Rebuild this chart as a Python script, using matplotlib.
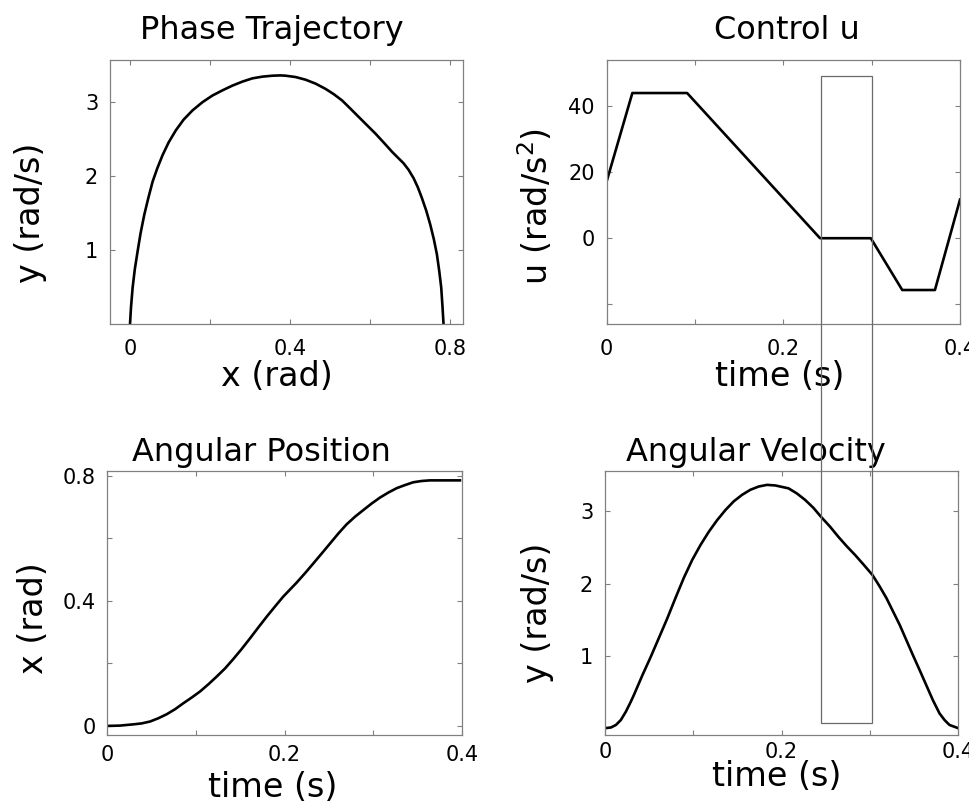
import numpy as np
import matplotlib
matplotlib.use("Agg")
import matplotlib.pyplot as plt
from matplotlib.patches import Rectangle

plt.rcParams['font.family'] = ['DejaVu Sans']
plt.rcParams['mathtext.default'] = 'regular'

# phase trajectory: y (rad/s) against x (rad)
phase_x = [0.0, 0.0025, 0.0066, 0.012, 0.0191, 0.0266, 0.0357, 0.0457, 0.0565, 0.0681,
           0.0814, 0.0964, 0.1146, 0.1338, 0.1562, 0.1811, 0.206, 0.231, 0.2559, 0.2808,
           0.3057, 0.3306, 0.3556, 0.3763, 0.3888, 0.4137, 0.4386, 0.4636, 0.4885, 0.5092,
           0.530, 0.5508, 0.5715, 0.5923, 0.6131, 0.6338, 0.6546, 0.6712, 0.6837, 0.6962,
           0.7086, 0.7194, 0.7294, 0.7402, 0.7502, 0.7593, 0.7668, 0.7726, 0.7776, 0.7809,
           0.7834]
phase_y = [0.0, 0.227, 0.495, 0.741, 0.987, 1.233, 1.479, 1.703, 1.926, 2.105,
           2.284, 2.455, 2.62, 2.763, 2.889, 3.0, 3.09, 3.16, 3.224, 3.278,
           3.322, 3.345, 3.358, 3.362, 3.358, 3.340, 3.304, 3.251, 3.18, 3.108,
           3.023, 2.912, 2.80, 2.688, 2.576, 2.455, 2.33, 2.24, 2.173, 2.084,
           1.972, 1.846, 1.703, 1.533, 1.345, 1.144, 0.943, 0.72, 0.495, 0.227,
           0.0]

# control u (piecewise linear)
u_t = [0, 0.029, 0.091, 0.2415, 0.299, 0.3346, 0.3716, 0.4]
u_val = [17.3, 44, 44, 0, 0, -15.7, -15.7, 11.7]

# angular position
pos_t = [0, 0.0143, 0.0293, 0.0387, 0.0482, 0.0576, 0.067, 0.0764, 0.0858, 0.0952,
         0.1046, 0.114, 0.1235, 0.1329, 0.1422, 0.1516, 0.161, 0.1704, 0.18, 0.1892,
         0.1986, 0.2138, 0.2232, 0.2325, 0.242, 0.2514, 0.2608, 0.270, 0.2797, 0.289,
         0.2984, 0.3078, 0.3172, 0.3266, 0.336, 0.3454, 0.3548, 0.364, 0.398]
pos_x = [0.0, 0.001, 0.005, 0.008, 0.014, 0.0245, 0.0373, 0.0533, 0.0725, 0.0907,
         0.11, 0.133, 0.158, 0.184, 0.214, 0.246, 0.280, 0.315, 0.350, 0.382,
         0.414, 0.459, 0.489, 0.52, 0.552, 0.584, 0.616, 0.645, 0.67, 0.691,
         0.712, 0.731, 0.747, 0.761, 0.771, 0.780, 0.784, 0.786, 0.786]

# angular velocity
vel_t = [0, 0.0068, 0.0124, 0.018, 0.0237, 0.0293, 0.0331, 0.0425, 0.0519, 0.0612,
         0.0706, 0.080, 0.0894, 0.0988, 0.1082, 0.1176, 0.127, 0.1364, 0.1458, 0.1552,
         0.1646, 0.174, 0.1834, 0.1928, 0.2003, 0.2078, 0.2172, 0.2266, 0.236, 0.2443,
         0.2548, 0.2642, 0.2736, 0.283, 0.2924, 0.3029, 0.3111, 0.3187, 0.3262, 0.3337,
         0.3412, 0.3487, 0.3562, 0.3637, 0.3712, 0.3787, 0.3844, 0.39, 0.4]
vel_y = [0.0, 0.01, 0.045, 0.114, 0.23, 0.368, 0.47, 0.737, 0.99, 1.254,
         1.522, 1.808, 2.085, 2.33, 2.537, 2.72, 2.88, 3.02, 3.14, 3.23,
         3.30, 3.345, 3.368, 3.36, 3.34, 3.32, 3.25, 3.16, 3.05, 2.93,
         2.79, 2.65, 2.52, 2.40, 2.27, 2.12, 1.96, 1.80, 1.615, 1.43,
         1.22, 1.01, 0.806, 0.598, 0.39, 0.206, 0.114, 0.045, 0.0]

# highlighted window (shown across the right column)
win_t = (0.2423, 0.3007)
win_top_u = 49.2
win_bot_y = 0.07

frame_col = '#808080'
lw = 1.9

fig = plt.figure(figsize=(9.7, 8.09), dpi=100)

def style(ax, xpad):
    for s in ax.spines.values():
        s.set_color(frame_col)
        s.set_linewidth(0.9)
    ax.tick_params(direction='in', length=3.5, width=0.8, color=frame_col,
                   labelcolor='black', labelsize=15, top=True, right=True)
    ax.tick_params(axis='x', pad=xpad)
    ax.tick_params(axis='y', pad=8.5)

# Phase Trajectory
ax1 = fig.add_axes([0.1134, 0.5995, 0.3639, 0.3263])
ax1.plot(phase_x, phase_y, color='black', lw=lw)
ax1.set_xlim(-0.05, 0.832)
ax1.set_ylim(0, 3.57)
ax1.set_xticks([0, 0.2, 0.4, 0.6, 0.8], ['0', '', '0.4', '', '0.8'])
ax1.set_yticks([1, 2, 3], ['1', '2', '3'])
style(ax1, 10.5)
ax1.set_title('Phase Trajectory', fontsize=23, x=0.459, pad=15.5)
ax1.set_xlabel('x (rad)', fontsize=24, va='center')
ax1.xaxis.set_label_coords(0.473, -0.197)
ax1.set_ylabel('y (rad/s)', fontsize=24, va='center')
ax1.yaxis.set_label_coords(-0.224, 0.422)

# Control u
ax2 = fig.add_axes([0.6255, 0.5995, 0.3642, 0.3263])
ax2.plot(u_t, u_val, color='black', lw=lw)
ax2.set_xlim(0, 0.4)
ax2.set_ylim(-26, 54)
ax2.set_xticks([0, 0.1, 0.2, 0.3, 0.4], ['0', '', '0.2', '', '0.4'])
ax2.set_yticks([-20, 0, 20, 40], ['', '0', '20', '40'])
style(ax2, 10.5)
ax2.set_title('Control u', fontsize=23, x=0.51, pad=15.5)
ax2.set_xlabel('time (s)', fontsize=24, va='center')
ax2.xaxis.set_label_coords(0.49, -0.2)
ax2.set_ylabel('u (rad/s$^2$)', fontsize=24, va='center')
ax2.yaxis.set_label_coords(-0.200, 0.447)

# Angular Position
ax3 = fig.add_axes([0.1106, 0.0915, 0.3654, 0.3263])
ax3.plot(pos_t, pos_x, color='black', lw=lw)
ax3.set_xlim(0, 0.4)
ax3.set_ylim(-0.029, 0.816)
ax3.set_xticks([0, 0.1, 0.2, 0.3, 0.4], ['0', '', '0.2', '', '0.4'])
ax3.set_yticks([0, 0.2, 0.4, 0.6, 0.8], ['0', '', '0.4', '', '0.8'])
style(ax3, 7.5)
ax3.set_title('Angular Position', fontsize=23, x=0.434, pad=7.5)
ax3.set_xlabel('time (s)', fontsize=24, va='center')
ax3.xaxis.set_label_coords(0.4675, -0.199)
ax3.set_ylabel('x (rad)', fontsize=24, va='center')
ax3.yaxis.set_label_coords(-0.207, 0.443)

# Angular Velocity
ax4 = fig.add_axes([0.6237, 0.0915, 0.3642, 0.3263])
ax4.plot(vel_t, vel_y, color='black', lw=lw)
ax4.set_xlim(0, 0.4)
ax4.set_ylim(-0.094, 3.56)
ax4.set_xticks([0, 0.1, 0.2, 0.3, 0.4], ['0', '', '0.2', '', '0.4'])
ax4.set_yticks([1, 2, 3], ['1', '2', '3'])
style(ax4, 5)
ax4.set_title('Angular Velocity', fontsize=23, x=0.427, pad=7.5)
ax4.set_xlabel('time (s)', fontsize=24, va='center')
ax4.xaxis.set_label_coords(0.486, -0.158)
ax4.set_ylabel('y (rad/s)', fontsize=24, va='center')
ax4.yaxis.set_label_coords(-0.190, 0.464)

# window rectangle spanning control and velocity panels
inv = fig.transFigure.inverted()
x0, y1 = inv.transform(ax2.transData.transform((win_t[0], win_top_u)))
x1, _ = inv.transform(ax2.transData.transform((win_t[1], win_top_u)))
_, y0 = inv.transform(ax4.transData.transform((win_t[0], win_bot_y)))
fig.patches.append(Rectangle((x0, y0), x1 - x0, y1 - y0, transform=fig.transFigure,
                             fill=False, edgecolor='#6a6a6a', lw=0.9, zorder=5))

fig.savefig('out.png', dpi=100)
